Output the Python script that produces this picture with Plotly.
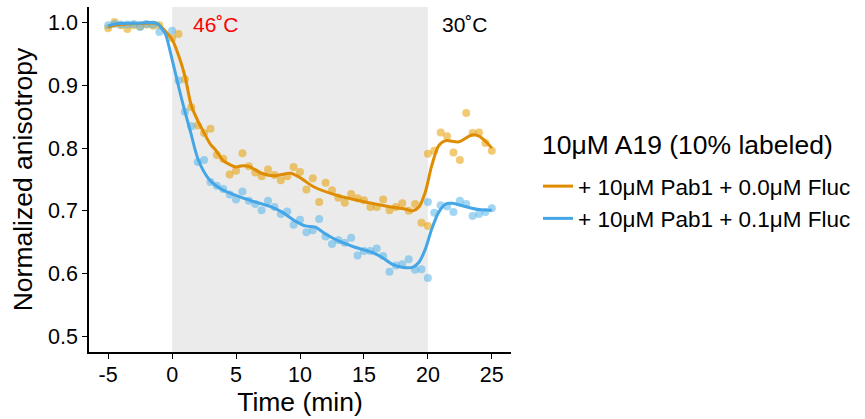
import plotly.graph_objects as go

# ---- data ----
t_orange = [-5.0, -4.5, -4.0, -3.5, -3.0, -2.5, -2.0, -1.5, -1.0, 0.0, 0.5, 1.0, 1.5, 2.0, 2.5, 3.0, 3.5, 4.0,
            4.5, 5.0, 5.5, 6.0, 6.5, 7.0, 7.5, 8.0, 8.5, 9.0, 9.5, 10.0, 10.5, 11.0, 11.5, 12.0, 12.5, 13.0,
            13.5, 14.0, 14.5, 15.0, 15.5, 16.0, 16.5, 17.0, 17.5, 18.0, 18.5, 19.0, 19.5, 20.0, 20.0, 20.5,
            21.0, 21.5, 22.0, 22.5, 23.0, 23.5, 24.0, 24.5, 25.0]
v_orange = [0.991, 1.001, 0.996, 0.990, 0.996, 0.994, 0.997, 0.995, 0.996, 0.975, 0.982, 0.910, 0.865, 0.836,
            0.824, 0.831, 0.789, 0.783, 0.758, 0.764, 0.792, 0.771, 0.761, 0.755, 0.766, 0.757, 0.749, 0.755,
            0.770, 0.762, 0.734, 0.752, 0.714, 0.745, 0.733, 0.721, 0.713, 0.727, 0.720, 0.717, 0.706, 0.706,
            0.718, 0.701, 0.706, 0.712, 0.700, 0.711, 0.681, 0.676, 0.791, 0.796, 0.825, 0.819, 0.793, 0.781,
            0.856, 0.824, 0.825, 0.808, 0.796]

t_blue = [-5.0, -4.5, -4.0, -3.5, -3.0, -2.5, -2.0, -1.5, -1.0, 0.0, 0.5, 1.0, 1.5, 2.0, 2.5, 3.0, 3.5, 4.0,
          4.5, 5.0, 5.5, 6.0, 6.5, 7.0, 7.5, 8.0, 8.5, 9.0, 9.5, 10.0, 10.5, 11.0, 11.5, 12.0, 12.5, 13.0,
          13.5, 14.0, 14.5, 15.0, 15.5, 16.0, 16.5, 17.0, 17.5, 18.0, 18.5, 19.0, 19.5, 20.0, 20.0, 20.5,
          21.0, 21.5, 22.0, 22.5, 23.0, 23.5, 24.0, 24.5, 25.0]
v_blue = [0.996, 0.998, 0.997, 0.997, 0.998, 0.993, 0.998, 0.997, 0.985, 0.987, 0.908, 0.858, 0.835, 0.778,
          0.781, 0.746, 0.740, 0.735, 0.726, 0.718, 0.731, 0.716, 0.711, 0.701, 0.716, 0.706, 0.695, 0.699,
          0.678, 0.686, 0.666, 0.669, 0.687, 0.659, 0.647, 0.653, 0.649, 0.657, 0.629, 0.636, 0.636, 0.640,
          0.628, 0.603, 0.613, 0.615, 0.623, 0.606, 0.607, 0.593, 0.714, 0.697, 0.709, 0.707, 0.698, 0.716,
          0.711, 0.692, 0.695, 0.698, 0.704]

# smoothed trend lines
ts_orange = [-5.0, -4.5, -3.5, -2.0, -1.2, -0.5, 0.0, 0.5, 1.0, 1.5, 2.0, 2.3, 3.0, 3.4, 4.0, 4.4, 5.0, 5.5,
             6.0, 7.0, 8.0, 9.3, 10.15, 11.1, 13.0, 15.1, 16.9, 18.2, 18.8, 19.3, 19.8, 20.3, 20.85, 21.4,
             22.4, 23.45, 24.0, 24.6, 25.0]
s_orange = [0.993, 0.996, 0.998, 0.999, 0.999, 0.986, 0.973, 0.948, 0.915, 0.868, 0.844, 0.832, 0.806, 0.797,
            0.780, 0.775, 0.770, 0.772, 0.771, 0.760, 0.756, 0.760, 0.751, 0.738, 0.724, 0.714, 0.707, 0.703,
            0.700, 0.706, 0.730, 0.772, 0.804, 0.812, 0.810, 0.821, 0.819, 0.809, 0.800]

ts_blue = [-5.0, -4.5, -3.0, -1.2, -0.68, -0.5, -0.1, 0.4, 0.9, 1.45, 2.05, 2.9, 3.9, 5.2, 6.2, 7.8, 8.6, 9.6,
           10.4, 11.2, 12.0, 13.0, 14.3, 15.6, 16.4, 17.2, 18.0, 18.8, 19.3, 19.8, 20.3, 20.85, 21.4, 21.9,
           22.9, 24.0, 25.0]
s_blue = [0.995, 0.998, 0.999, 0.999, 0.987, 0.981, 0.950, 0.907, 0.866, 0.825, 0.781, 0.750, 0.734, 0.723,
          0.716, 0.706, 0.698, 0.684, 0.676, 0.674, 0.663, 0.652, 0.642, 0.634, 0.626, 0.615, 0.610, 0.610,
          0.618, 0.639, 0.671, 0.698, 0.711, 0.712, 0.707, 0.702, 0.701]

series_names = ["+ 10μM Pab1 + 0.0μM Fluc", "+ 10μM Pab1 + 0.1μM Fluc"]
legend_title = "10μM A19 (10% labeled)"
x_ticks = [-5, 0, 5, 10, 15, 20, 25]
x_ticklabels = ["-5", "0", "5", "10", "15", "20", "25"]
y_ticks = [0.5, 0.6, 0.7, 0.8, 0.9, 1.0]
y_ticklabels = ["0.5", "0.6", "0.7", "0.8", "0.9", "1.0"]
heat_start, heat_end = 0, 20
label_hot, label_cool = "46˚C", "30˚C"
label_hot_x, label_cool_x = 3.4, 22.9

FONT = "Liberation Sans, Arial, sans-serif"
c_orange_pt, c_blue_pt = "#E69F00", "#56B4E9"
c_orange_ln, c_blue_ln = "#E08C00", "#44A6E6"

fig = go.Figure()
fig.add_trace(go.Scatter(x=t_orange, y=v_orange, mode="markers", showlegend=False,
                         marker=dict(color=c_orange_pt, size=8, opacity=0.55, line=dict(width=0))))
fig.add_trace(go.Scatter(x=t_blue, y=v_blue, mode="markers", showlegend=False,
                         marker=dict(color=c_blue_pt, size=8, opacity=0.55, line=dict(width=0))))
fig.add_trace(go.Scatter(x=ts_orange, y=s_orange, mode="lines", name=series_names[0],
                         line=dict(color=c_orange_ln, width=3, shape="spline", smoothing=0.8)))
fig.add_trace(go.Scatter(x=ts_blue, y=s_blue, mode="lines", name=series_names[1],
                         line=dict(color=c_blue_ln, width=3, shape="spline", smoothing=0.8)))

fig.add_shape(type="rect", xref="x", yref="paper", x0=heat_start, x1=heat_end, y0=0, y1=1,
              fillcolor="#EBEBEB", line=dict(width=0), layer="below")

fig.add_annotation(x=label_hot_x, y=0.948, xref="x", yref="paper", text=label_hot, showarrow=False,
                   yanchor="middle", font=dict(family=FONT, size=21, color="#FF0000"))
fig.add_annotation(x=label_cool_x, y=0.948, xref="x", yref="paper", text=label_cool, showarrow=False,
                   yanchor="middle", font=dict(family=FONT, size=21, color="#000000"))

# legend title as text placed above the legend entries
fig.add_annotation(x=(540 - 89) / 422, y=1 - (145 - 7) / 345, xref="paper", yref="paper",
                   text=legend_title, showarrow=False, xanchor="left", yanchor="middle",
                   font=dict(family=FONT, size=26.5, color="#000000"))

axis_common = dict(showgrid=False, zeroline=False, showline=True, linecolor="#000000", linewidth=1.5,
                   ticks="outside", ticklen=5, tickwidth=1.3, tickcolor="#000000",
                   tickfont=dict(family=FONT, size=21.5, color="#000000"))

fig.update_layout(
    width=865, height=419,
    margin=dict(l=89, r=354, t=7, b=67, autoexpand=False),
    plot_bgcolor="#FFFFFF", paper_bgcolor="#FFFFFF",
    font=dict(family=FONT, color="#000000"),
    xaxis=dict(range=[-6.5, 26.5], tickvals=x_ticks, ticktext=x_ticklabels, ticklabelstandoff=-3,
               title=dict(text="Time (min)", font=dict(family=FONT, size=26.5), standoff=0),
               **axis_common),
    yaxis=dict(range=[0.475, 1.025], tickvals=y_ticks, ticktext=y_ticklabels,
               title=dict(text="Normalized anisotropy", font=dict(family=FONT, size=26.5), standoff=8),
               **axis_common),
    legend=dict(x=(538 - 89) / 422, y=1 - (165 - 7) / 345, xanchor="left", yanchor="top",
                font=dict(family=FONT, size=22.5), bgcolor="rgba(0,0,0,0)", itemwidth=30,
                tracegroupgap=0),
)

fig.write_html("out.html")
